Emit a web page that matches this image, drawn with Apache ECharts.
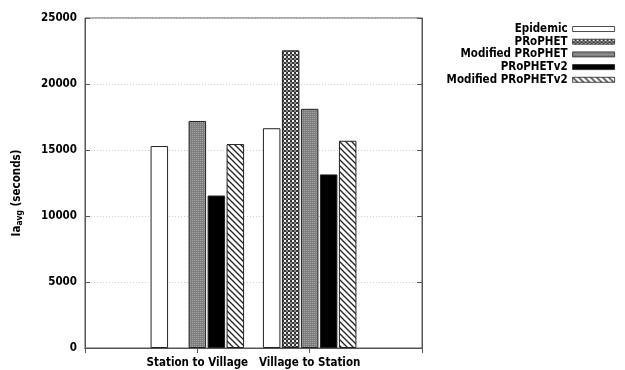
<!DOCTYPE html>
<html>
<head>
<meta charset="utf-8">
<script src="https://cdn.jsdelivr.net/npm/echarts@6/dist/echarts.min.js"></script>
<style>html,body{margin:0;padding:0;background:#fff;}#c{width:625px;height:370px;}</style>
</head>
<body>
<div id="c"></div>
<script>
const categories = ['Station to Village', 'Village to Station'];
const seriesNames = ['Epidemic', 'PRoPHET', 'Modified PRoPHET', 'PRoPHETv2', 'Modified PRoPHETv2'];
const epidemic = [15300, 16650];
const prophet = [null, 22550];
const modProphet = [17200, 18120];
const prophetV2 = [11550, 13150];
const modProphetV2 = [15450, 15700];
const yTicks = [0, 5000, 10000, 15000, 20000, 25000];

function tile(w, h, draw) {
  const c = document.createElement('canvas');
  c.width = w; c.height = h;
  const g = c.getContext('2d');
  draw(g);
  return { image: c, repeat: 'repeat' };
}
const fills = [
  '#ffffff',
  tile(4, 4, g => { g.fillStyle = '#333333'; g.fillRect(0,0,4,4); g.fillStyle = '#f0f0f0'; g.fillRect(0,0,2,2); g.fillStyle = '#8a8a8a'; g.fillRect(2,2,2,2); }),
  tile(2, 2, g => { g.fillStyle = '#7e7e7e'; g.fillRect(0,0,2,2); g.fillStyle = '#a4a4a4'; g.fillRect(0,0,1,1); }),
  '#000000',
  tile(6, 6, g => { g.fillStyle = '#ffffff'; g.fillRect(0,0,6,6); g.strokeStyle = '#222'; g.lineWidth = 1.3; g.beginPath(); g.moveTo(-1,-1); g.lineTo(7,7); g.moveTo(-7,-1); g.lineTo(1,7); g.moveTo(5,-1); g.lineTo(13,7); g.stroke(); })
];
const values = [epidemic, prophet, modProphet, prophetV2, modProphetV2];
const axisCats = [''].concat(categories, ['']);
const font = { fontFamily: '"DejaVu Sans Condensed", "DejaVu Sans"', fontWeight: 'bold', fontSize: 11.5, color: '#000' };

const chart = echarts.init(document.getElementById('c'), null, { renderer: 'canvas' });
chart.setOption({
  animation: false,
  backgroundColor: '#fff',
  grid: { left: 85, right: 203, top: 18, bottom: 22, show: true, borderColor: '#555', borderWidth: 1 },
  legend: {
    orient: 'vertical', right: 10, top: 23, align: 'right', padding: 0,
    itemWidth: 42, itemHeight: 5, itemGap: 0.7,
    textStyle: Object.assign({}, font, { lineHeight: 12, padding: [0, 0, 0, 0] }),
    itemStyle: { borderWidth: 0.8, borderColor: '#222' },
    data: seriesNames.map(n => ({ name: n, icon: 'rect' }))
  },
  xAxis: [{
    type: 'category', data: axisCats, boundaryGap: false,
    axisLine: { lineStyle: { color: '#555' } },
    axisTick: { show: false },
    axisLabel: Object.assign({}, font, { margin: 9, interval: 0 })
  }, {
    type: 'category', data: axisCats, boundaryGap: false, position: 'top',
    axisLine: { lineStyle: { color: '#555' } },
    axisTick: { show: true, inside: true, length: 5, lineStyle: { color: '#555' }, interval: 0 },
    axisLabel: { show: false }
  }],
  yAxis: [{
    type: 'value', min: 0, max: 25000, interval: 5000,
    name: '{a|Ia}{s|avg}{a| (seconds)}', nameLocation: 'middle', nameGap: 61, nameRotate: 90,
    nameTextStyle: { padding: [0, 20, 0, 0], rich: { a: Object.assign({}, font), s: Object.assign({}, font, { fontSize: 8.5, verticalAlign: 'bottom', padding: [5, 0, 0, 0] }) } },
    axisLine: { show: true, lineStyle: { color: '#555' } },
    axisTick: { show: true, inside: true, length: 5, lineStyle: { color: '#555' } },
    axisLabel: Object.assign({}, font, { margin: 8, formatter: v => String(v), customValues: yTicks }),
    splitLine: { show: true, lineStyle: { color: '#cfcfcf', type: [1, 2] } }
  }, {
    type: 'value', min: 0, max: 25000, interval: 5000, position: 'right',
    axisLine: { show: true, lineStyle: { color: '#555' } },
    axisTick: { show: true, inside: true, length: 5, lineStyle: { color: '#555' } },
    axisLabel: { show: false }, splitLine: { show: false }
  }],
  series: seriesNames.map((n, i) => ({
    name: n, type: 'bar', xAxisIndex: 0, yAxisIndex: 0,
    barWidth: 17.5, barGap: '8.6%',
    data: [null].concat(values[i], [null]),
    itemStyle: { color: fills[i], borderColor: '#222', borderWidth: 1 }
  }))
});
</script>
</body>
</html>
